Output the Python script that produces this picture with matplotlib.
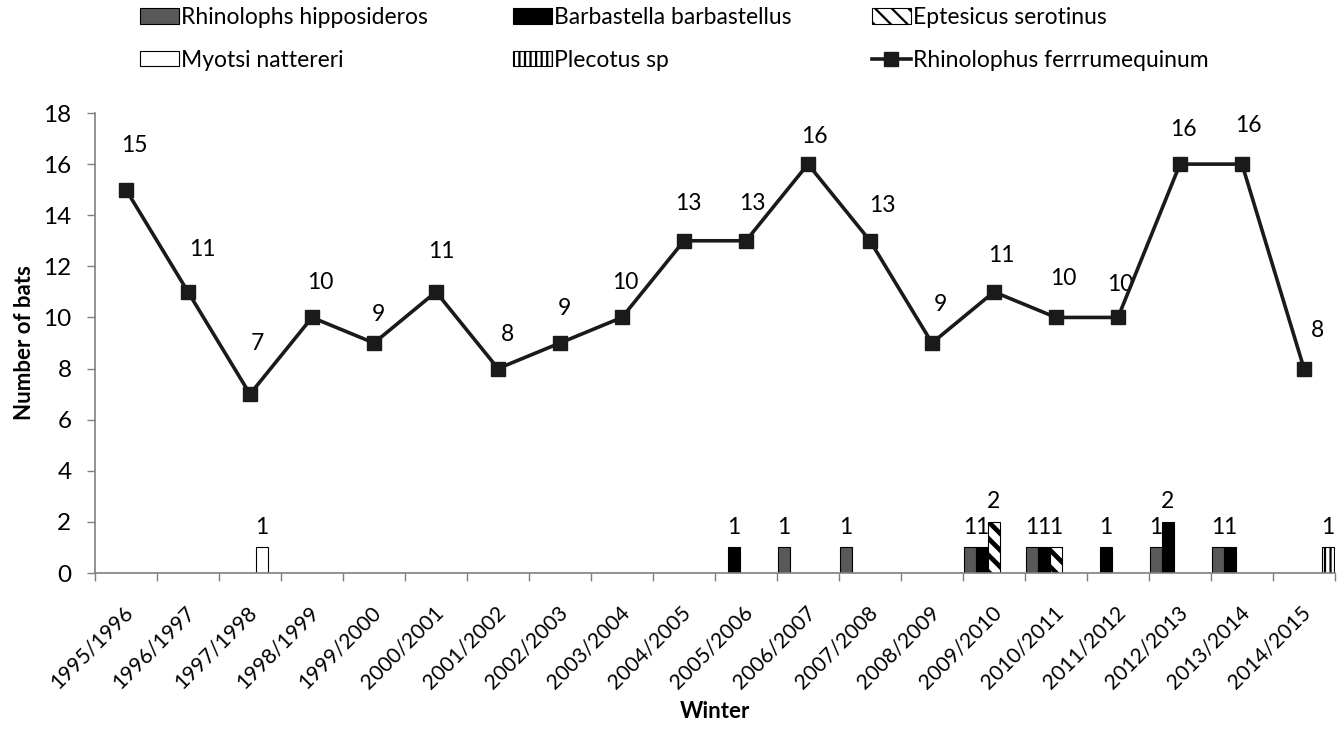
import numpy as np
import matplotlib
matplotlib.use("Agg")
from matplotlib import pyplot as plt
from matplotlib.lines import Line2D
from matplotlib.patches import Patch
from matplotlib.transforms import ScaledTranslation

plt.rcParams["font.family"] = ["Lato", "DejaVu Sans"]

winters = [
    "1995/1996", "1996/1997", "1997/1998", "1998/1999", "1999/2000",
    "2000/2001", "2001/2002", "2002/2003", "2003/2004", "2004/2005",
    "2005/2006", "2006/2007", "2007/2008", "2008/2009", "2009/2010",
    "2010/2011", "2011/2012", "2012/2013", "2013/2014", "2014/2015",
]

# Rhinolophus ferrumequinum (line)
ferrumequinum = [15, 11, 7, 10, 9, 11, 8, 9, 10, 13, 13, 16, 13, 9, 11, 10, 10, 16, 16, 8]

# other species (bars)
hipposideros = [0, 0, 0, 0, 0, 0, 0, 0, 0, 0, 0, 1, 1, 0, 1, 1, 0, 1, 1, 0]
barbastellus = [0, 0, 0, 0, 0, 0, 0, 0, 0, 0, 1, 0, 0, 0, 1, 1, 1, 2, 1, 0]
serotinus = [0, 0, 0, 0, 0, 0, 0, 0, 0, 0, 0, 0, 0, 0, 2, 1, 0, 0, 0, 0]
nattereri = [0, 0, 1, 0, 0, 0, 0, 0, 0, 0, 0, 0, 0, 0, 0, 0, 0, 0, 0, 0]
plecotus = [0, 0, 0, 0, 0, 0, 0, 0, 0, 0, 0, 0, 0, 0, 0, 0, 0, 0, 0, 1]

# label nudges for the line values (pixels), as placed in the original
lbl_dx = [8, 14, 7, 8, 4, 5, 10, 4, 3, 4, 6, 6, 12, 8, 7, 7, 2, 3, 6, 13]
lbl_dy = [44, 42, 51, 35, 29, 40, 34, 35, 35, 37, 37, 28, 35, 39, 36, 39, 33, 35, 39, 38]

W, H = 1341, 735
fig = plt.figure(figsize=(W / 100, H / 100), dpi=100)
ax = fig.add_axes([95 / W, 1 - 573 / H, 1240 / W, 460 / H])

x = np.arange(len(winters))
bw = 12 / 62  # bar width in category units

bar_series = [
    (hipposideros, dict(color="#595959"), None, 1.0),
    (barbastellus, dict(color="black"), None, 1.0),
    (serotinus, dict(color="white"), "\\\\", 3.4),
    (nattereri, dict(color="white"), None, 1.0),
    (plecotus, dict(color="white"), "|||", 1.6),
]
for i, (vals, kw, hatch, hlw) in enumerate(bar_series):
    plt.rcParams["hatch.linewidth"] = hlw
    bars = ax.bar(x + (i - 2) * bw, vals, width=bw, edgecolor="black",
                  linewidth=0.8, hatch=hatch, zorder=2, **kw)
    for b in bars:
        if hasattr(b, "set_hatch_linewidth"):
            b.set_hatch_linewidth(hlw)
    ax.bar_label(bars, labels=[str(v) if v > 0 else "" for v in vals],
                 padding=7, fontsize=16.5, color="black")

ax.plot(x, ferrumequinum, color="#1a1a1a", lw=2.6, marker="s", ms=10,
        markerfacecolor="#1a1a1a", markeredgecolor="#1a1a1a", zorder=4)
for xi, v, dx, dy in zip(x, ferrumequinum, lbl_dx, lbl_dy):
    ax.annotate(str(v), (xi, v), xytext=(dx * 0.72, dy * 0.72),
                textcoords="offset points", ha="center", va="center",
                fontsize=16.5, color="black")

ax.set_xlim(-0.5, len(winters) - 0.5)
ax.set_ylim(0, 18)
ax.set_yticks(np.arange(0, 19, 2))

# tick marks between categories, labels at category centres
ax.set_xticks(np.arange(-0.5, len(winters), 1))
ax.set_xticklabels([])
ax.set_xticks(x, minor=True)
ax.set_xticklabels(winters, minor=True, rotation=45, ha="right", va="center",
                   rotation_mode="anchor", fontsize=15.2)
ax.tick_params(axis="x", which="minor", length=0, pad=26)
ax.tick_params(axis="x", which="major", length=6, width=1, color="#808080")
ax.tick_params(axis="y", length=6, width=1, color="#808080", pad=11, labelsize=17.5)
shift = ScaledTranslation(4 / 100, 0, fig.dpi_scale_trans)
for lbl in ax.get_xticklabels(minor=True):
    lbl.set_transform(lbl.get_transform() + shift)

for s in ["top", "right"]:
    ax.spines[s].set_visible(False)
for s in ["left", "bottom"]:
    ax.spines[s].set_color("#808080")
    ax.spines[s].set_linewidth(1.2)

ax.set_ylabel("Number of bats", fontsize=16, fontweight="bold")
ax.yaxis.set_label_coords(-0.048, 0.5)
ax.set_xlabel("Winter", fontsize=16, fontweight="bold", va="center")
ax.xaxis.set_label_coords(0.5, -0.302)

plt.rcParams["hatch.linewidth"] = 3.4
h_ser = Patch(facecolor="white", edgecolor="black", hatch="\\\\", lw=0.8)
plt.rcParams["hatch.linewidth"] = 1.6
h_ple = Patch(facecolor="white", edgecolor="black", hatch="|||", lw=0.8)
columns = [
    ([Patch(facecolor="#595959", edgecolor="black", lw=0.8),
      Patch(facecolor="white", edgecolor="black", lw=0.8)],
     ["Rhinolophs hipposideros", "Myotsi nattereri"], 140),
    ([Patch(facecolor="black", edgecolor="black", lw=0.8), h_ple],
     ["Barbastella barbastellus", "Plecotus sp"], 513),
    ([h_ser, Line2D([], [], color="#1a1a1a", lw=2.6, marker="s", ms=10)],
     ["Eptesicus serotinus", "Rhinolophus ferrrumequinum"], 872),
]
for hs, ls, xpos in columns:
    fig.legend(hs, ls, loc="upper left", bbox_to_anchor=(xpos / W, 1 - 7 / H),
               frameon=False, fontsize=16.5, borderpad=0, borderaxespad=0,
               handlelength=1.7, handleheight=0.65, handletextpad=0.1,
               labelspacing=0.95)

fig.savefig("out.png", dpi=100)
